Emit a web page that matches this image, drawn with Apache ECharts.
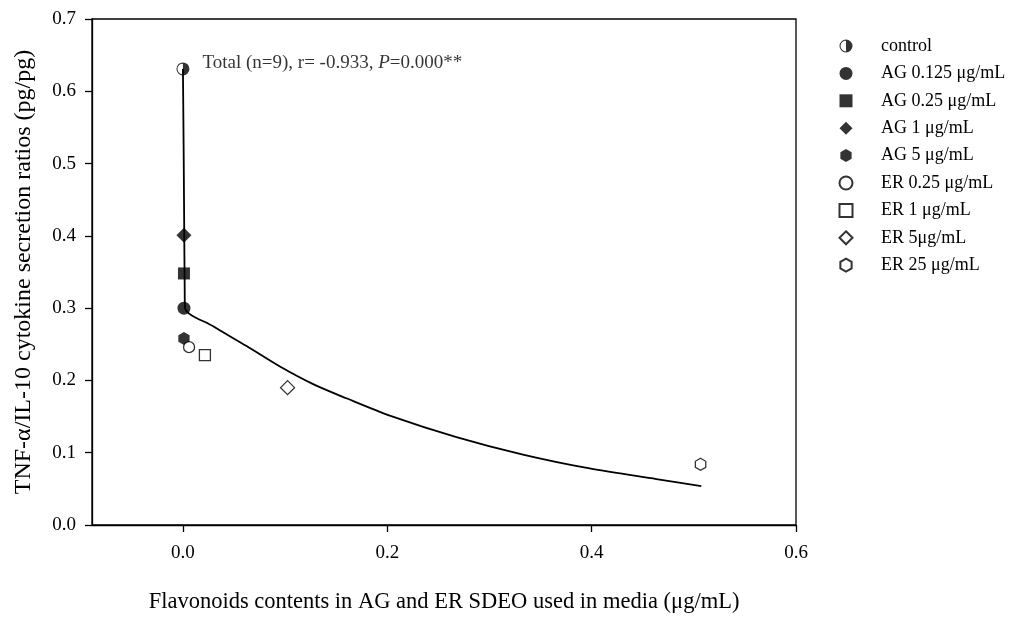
<!DOCTYPE html>
<html><head><meta charset="utf-8">
<script src="https://cdn.jsdelivr.net/npm/echarts@6/dist/echarts.min.js"></script>
<style>html,body{margin:0;padding:0;background:#fff}#c{width:1011px;height:619px}</style>
</head><body><div id="c"></div>
<script>
// ---- data ----
const groupNames = ['control', 'AG 0.125 μg/mL', 'AG 0.25 μg/mL', 'AG 1 μg/mL', 'AG 5 μg/mL',
                    'ER 0.25 μg/mL', 'ER 1 μg/mL', 'ER 5μg/mL', 'ER 25 μg/mL'];
const groupX = [0.0, 0.001, 0.001, 0.001, 0.001, 0.006, 0.0215, 0.1024, 0.5066];
const groupY = [0.631, 0.300, 0.348, 0.401, 0.258, 0.246, 0.235, 0.190, 0.084];
const fitX = [0.0, 0.0008, 0.0013, 0.0017, 0.002, 0.0296, 0.0623, 0.0949, 0.1274, 0.160,
              0.2024, 0.2677, 0.3328, 0.398, 0.4633, 0.5073];
const fitY = [0.631, 0.50, 0.40, 0.33, 0.3006, 0.2749, 0.2475, 0.2192, 0.1949, 0.1753,
              0.1514, 0.1217, 0.0974, 0.0782, 0.0635, 0.0539];
const xTicks = [0.0, 0.2, 0.4, 0.6];
const yTicks = [0.0, 0.1, 0.2, 0.3, 0.4, 0.5, 0.6, 0.7];
const annotation = ['Total (n=9), r= -0.933, ', 'P', '=0.000**'];
const xTitle = 'Flavonoids contents in AG and ER SDEO used in media (μg/mL)';
const yTitle = 'TNF-α/IL-10 cytokine secretion ratios (pg/pg)';

// ---- styles ----
const FONT = 'Liberation Serif';
const halfCircle = 'path://M10,0 A10,10 0 0,1 10,20 Z M10,0 A10,10 0 0,0 10,20 L10,18.4 A8.4,8.4 0 0,1 10,1.6 Z';
const hexagon = 'path://M10,0 L18.66,5 L18.66,15 L10,20 L1.34,15 L1.34,5 Z';
const square = 'path://M0,0 L10,0 L10,10 L0,10 Z';
const diamond = 'path://M10,0 L20,10 L10,20 L0,10 Z';
const dot = 'path://M10,0 A10,10 0 1,1 10,20 A10,10 0 1,1 10,0 Z';
const filled = {color: '#000', borderWidth: 0};
const open = {color: '#fff', borderColor: '#000', borderWidth: 1.3};
const groupStyles = [
  {symbol: halfCircle, size: 13, item: filled},
  {symbol: dot, size: 13, item: filled},
  {symbol: square, size: 12, item: filled},
  {symbol: diamond, size: 15, item: filled},
  {symbol: hexagon, size: 13, item: filled},
  {symbol: dot, size: 11, item: open},
  {symbol: square, size: 11, item: open},
  {symbol: diamond, size: 14, item: open},
  {symbol: hexagon, size: 12, item: open}
];

const series = [{
  type: 'line',
  name: 'fit',
  data: fitX.map((x, i) => [x, fitY[i]]),
  showSymbol: false,
  symbol: 'none',
  smooth: 0.3,
  lineStyle: {color: '#000', width: 1.8},
  z: 1,
  silent: true
}];
groupNames.forEach((n, i) => {
  const st = groupStyles[i];
  const s = {
    type: 'scatter',
    name: n,
    data: [[groupX[i], groupY[i]]],
    symbol: st.symbol,
    symbolSize: st.size,
    symbolKeepAspect: true,
    itemStyle: st.item,
    z: 3
  };
  if (i === 0) {
    s.label = {
      show: true,
      position: 'right',
      distance: 13,
      offset: [0, -6],
      formatter: '{a|' + annotation[0] + '}{i|' + annotation[1] + '}{a|' + annotation[2] + '}',
      rich: {
        a: {fontFamily: FONT, fontSize: 19, color: '#000'},
        i: {fontFamily: FONT, fontSize: 19, color: '#000', fontStyle: 'italic'}
      }
    };
  }
  series.push(s);
});

const chart = echarts.init(document.getElementById('c'), null, {renderer: 'canvas'});
chart.setOption({
  animation: false,
  backgroundColor: '#fff',
  grid: {left: 92, right: 215, top: 19, bottom: 92, show: true, borderColor: '#000', borderWidth: 1.3, containLabel: false},
  legend: {
    orient: 'vertical',
    left: 838.5,
    top: 37,
    padding: 0,
    itemWidth: 60,
    itemHeight: 13,
    itemGap: 9.4,
    data: groupNames,
    textStyle: {fontFamily: FONT, fontSize: 18, color: '#000'},
    selectedMode: false
  },
  xAxis: {
    type: 'value',
    min: -0.089,
    max: 0.6,
    name: xTitle,
    nameLocation: 'middle',
    nameGap: 66,
    nameTextStyle: {fontFamily: FONT, fontSize: 22.5, color: '#000'},
    axisLine: {show: true, onZero: false, lineStyle: {color: '#000', width: 1.3}},
    axisTick: {show: true, length: 7, inside: false, customValues: xTicks, lineStyle: {color: '#000', width: 1.3}},
    axisLabel: {customValues: xTicks, margin: 19, fontFamily: FONT, fontSize: 19, color: '#000',
                formatter: v => v.toFixed(1)},
    splitLine: {show: false}
  },
  yAxis: {
    type: 'value',
    min: 0,
    max: 0.7,
    interval: 0.1,
    name: yTitle,
    nameLocation: 'middle',
    nameGap: 56,
    nameTextStyle: {fontFamily: FONT, fontSize: 24, color: '#000'},
    axisLine: {show: true, onZero: false, lineStyle: {color: '#000', width: 1.3}},
    axisTick: {show: true, length: 7, customValues: yTicks, lineStyle: {color: '#000', width: 1.3}},
    axisLabel: {customValues: yTicks, margin: 16, fontFamily: FONT, fontSize: 19, color: '#000',
                formatter: v => v.toFixed(1)},
    splitLine: {show: false}
  },
  series: series
});
</script>
</body></html>
